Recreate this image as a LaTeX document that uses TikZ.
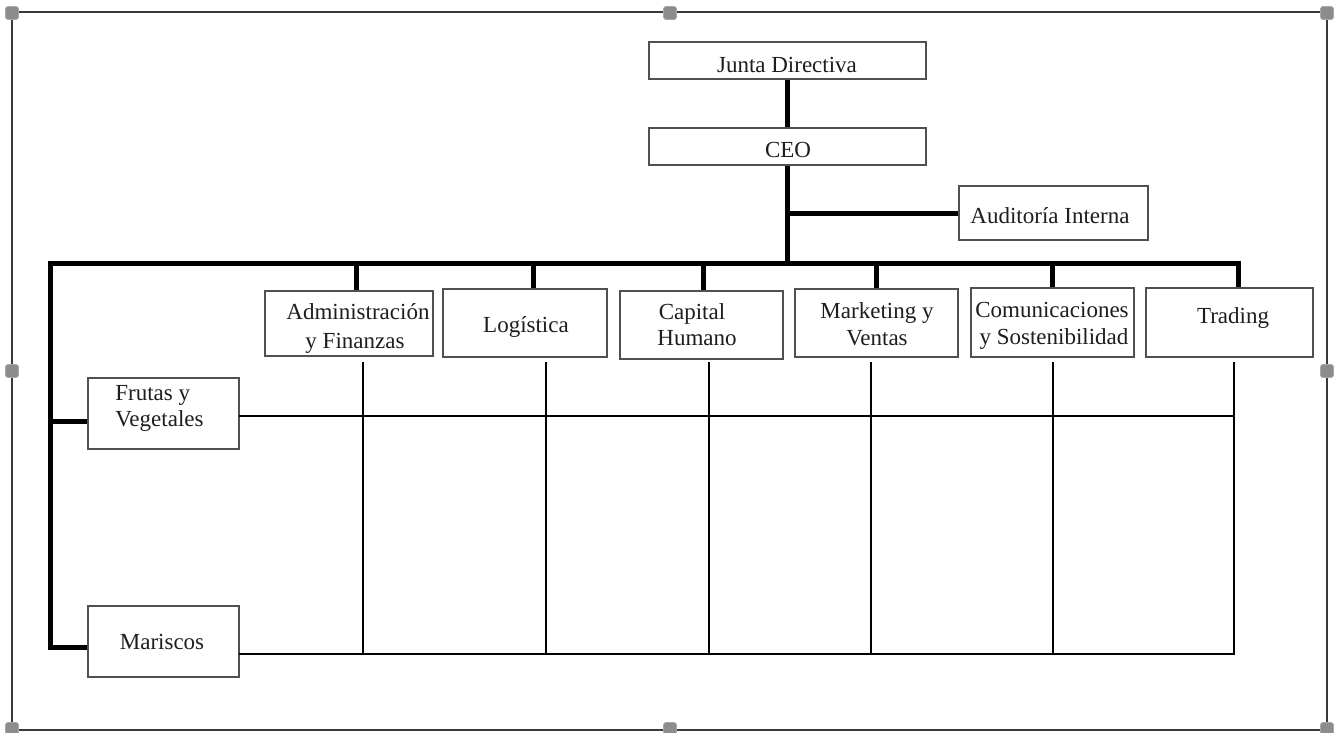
\documentclass[tikz,border=0pt]{standalone}
\usepackage{fontspec}
\setmainfont{Liberation Serif}
\usetikzlibrary{fit}
\definecolor{boxline}{HTML}{505050}
\definecolor{frameline}{HTML}{3A3A3A}
\definecolor{handlefill}{HTML}{8C8C8C}
\definecolor{handleline}{HTML}{A8A8A8}
\definecolor{txt}{HTML}{1E1E1E}
\tikzset{
  box/.style={draw=boxline, line width=0.55pt, inner sep=0pt, fill=white},
  lbl/.style={anchor=base, inner sep=0pt, text=txt, font=\fontsize{11.5pt}{14pt}\selectfont},
  lblw/.style={anchor=base west, inner sep=0pt, text=txt, font=\fontsize{11.5pt}{14pt}\selectfont},
  heavy/.style={line width=2.5pt, black, line join=miter, line cap=butt},
  light/.style={line width=0.7pt, black, line cap=rect},
  frame/.style={draw=frameline, line width=1pt},
  handle/.style={rectangle, rounded corners=1.2pt, fill=handlefill, draw=handleline, line width=0.3pt, minimum size=6.5pt, inner sep=0pt},
}
\begin{document}
\begin{tikzpicture}[x=0.5pt,y=-0.5pt]
\useasboundingbox (0,0) rectangle (1334,733);
% outer frame with handles
\draw[frame] (12,12) rectangle (1327,730);
\foreach \n/\hx/\hy in {h1/12/13, h2/670/13, h3/1327/13, h4/12/371, h5/1327/371, h6/12/729, h7/670/729, h8/1327/729}
  \node[handle] (\n) at (\hx,\hy) {};

% boxes
\node[box, fit={(649,42) (926,79)}] (junta) {};
\node[box, fit={(649,128) (926,165)}] (ceo) {};
\node[box, fit={(959,186) (1148,240)}] (aud) {};
\node[box, fit={(265,291) (433,356)}] (adm) {};
\node[box, fit={(443,289) (607,357)}] (log) {};
\node[box, fit={(620,291) (783,359)}] (cap) {};
\node[box, fit={(795,289) (958,357)}] (mkt) {};
\node[box, fit={(971,288) (1134,357)}] (com) {};
\node[box, fit={(1146,288) (1313,357)}] (trd) {};
\node[box, fit={(88,378) (239,449)}] (fru) {};
\node[box, fit={(88,606) (239,677)}] (mar) {};

% texts
\node[lbl] (tjunta) at (787,73) {Junta Directiva};
\node[lbl] (tceo) at (788,157) {CEO};
\node[lbl] (taud) at (1050,223) {Auditoría Interna};
\node[lbl] (tadm1) at (358,319) {Administración};
\node[lbl] (tadm2) at (355,348) {y Finanzas};
\node[lbl] (tlog) at (526,332) {Logística};
\node[lbl] (tcap1) at (692,319) {Capital};
\node[lbl] (tcap2) at (697,345) {Humano};
\node[lbl] (tmkt1) at (877,318) {Marketing y};
\node[lbl] (tmkt2) at (877,345) {Ventas};
\node[lbl] (tcom1) at (1052,317) {Comunicaciones};
\node[lbl] (tcom2) at (1054,344) {y Sostenibilidad};
\node[lbl] (ttrd) at (1233,323) {Trading};
\node[lblw] (tfru1) at (115,400) {Frutas y};
\node[lblw] (tfru2) at (115,426) {Vegetales};
\node[lbl] (tmar) at (162,649) {Mariscos};

% heavy connectors
\coordinate (barL) at (50,263);
\draw[heavy] (junta.south) -- (ceo.north);
\draw[heavy] (ceo.south) -- (ceo.south |- barL);
\draw[heavy] (ceo.south |- aud.west) -- (aud.west);
\draw[heavy] ([yshift=-2.75pt]mar.west) -- ([yshift=-2.75pt]mar.west -| barL) -- (barL)
  -- ([xshift=4.25pt]trd.north |- barL) -- ([xshift=4.25pt]trd.north);
\draw[heavy] ([yshift=-3.75pt]fru.west) -- ([yshift=-3.75pt]fru.west -| barL);
\draw[heavy] ([xshift=3.5pt]adm.north) -- ([xshift=3.5pt]adm.north |- barL);
\draw[heavy] ([xshift=4pt]log.north) -- ([xshift=4pt]log.north |- barL);
\draw[heavy] ([xshift=0.75pt]cap.north) -- ([xshift=0.75pt]cap.north |- barL);
\draw[heavy] (mkt.north) -- (mkt.north |- barL);
\draw[heavy] (com.north) -- (com.north |- barL);

% light grid
\coordinate (vadm) at (363,363);
\coordinate (vlog) at (546,363);
\coordinate (vcap) at (709,363);
\coordinate (vmkt) at (871,363);
\coordinate (vcom) at (1053,363);
\coordinate (vtrd) at (1234,363);
\coordinate (frR) at ([yshift=-1.25pt]fru.east);
\coordinate (maR) at ([yshift=-6.25pt]mar.east);
\draw[light] (frR) -- (frR -| vtrd);
\draw[light] (maR) -- (maR -| vtrd) -- (vtrd);
\foreach \v in {vadm, vlog, vcap, vmkt, vcom}
  \draw[light] (\v) -- (\v |- maR);
\end{tikzpicture}
\end{document}
